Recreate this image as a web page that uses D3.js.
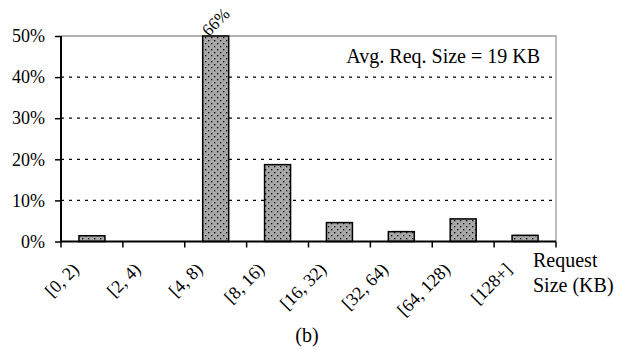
<!DOCTYPE html>
<html><head><meta charset="utf-8">
<script src="https://cdn.jsdelivr.net/npm/d3@7"></script>
<style>body{margin:0;background:#fff}text{font-family:"Liberation Serif","Times New Roman",serif;fill:#000}</style>
</head><body>
<svg id="c" width="621" height="350"></svg>
<script>
const categories = ["[0, 2)","[2, 4)","[4, 8)","[8, 16)","[16, 32)","[32, 64)","[64, 128)","[128+]"];
const values = [1.4, 0, 66, 18.7, 4.6, 2.4, 5.5, 1.5];
const yTicks = [0, 10, 20, 30, 40, 50];
const annotation = "Avg. Req. Size = 19 KB";

const svg = d3.select("#c");
const L = 61, R = 556, T = 36, B = 241.5;
const x = d3.scaleBand().domain(categories).range([L, R]).paddingInner(0.58).paddingOuter(0.29);
const y = d3.scaleLinear().domain([0, 50]).range([B, T]);

const defs = svg.append("defs");
const pat = defs.append("pattern").attr("id","dots").attr("width",6).attr("height",6).attr("patternUnits","userSpaceOnUse");
pat.append("rect").attr("width",6).attr("height",6).attr("fill","#a8a8a8");
pat.append("rect").attr("x",1).attr("y",1).attr("width",1.3).attr("height",1.3).attr("fill","#000");
pat.append("rect").attr("x",4).attr("y",4).attr("width",1.3).attr("height",1.3).attr("fill","#000");

// gridlines
svg.append("g").selectAll("line").data(yTicks.filter(d => d > 0 && d < 50)).join("line")
  .attr("x1", L).attr("x2", R).attr("y1", d => y(d)).attr("y2", d => y(d))
  .attr("stroke","#000").attr("stroke-width",1.2).attr("stroke-dasharray","3,5");
// top & right border
svg.append("path").attr("d", `M${L},${y(50)}H${R}V${B}`).attr("fill","none").attr("stroke","#999").attr("stroke-width",1.3);

// bars
svg.append("g").selectAll("rect").data(categories.map((c,i)=>({c, v: values[i]})).filter(d => d.v > 0)).join("rect")
  .attr("x", d => x(d.c)).attr("width", x.bandwidth())
  .attr("y", d => y(Math.min(d.v, 50))).attr("height", d => B - y(Math.min(d.v, 50)))
  .attr("fill","url(#dots)").attr("stroke","#000").attr("stroke-width",1.5);

// value label for clipped bar
const over = categories.map((c,i)=>({c, v: values[i]})).filter(d => d.v > 50);
svg.append("g").selectAll("text").data(over).join("text")
  .attr("transform", d => `translate(${x(d.c) + x.bandwidth()/2 + 4},${T - 10}) rotate(-45)`)
  .attr("text-anchor","middle").attr("font-size",17).text(d => d.v + "%");

// y axis
const ya = d3.axisLeft(y).tickValues(yTicks).tickFormat(d => d + "%").tickSize(6).tickPadding(10);
const gy = svg.append("g").attr("transform", `translate(${L},0)`).call(ya);
gy.select(".domain").attr("stroke","#000").attr("stroke-width",2).attr("d", `M0,${B}V${T}`);
gy.selectAll(".tick line").attr("stroke","#000").attr("stroke-width",1.5);
gy.selectAll(".tick text").attr("font-size",18).attr("font-family","Liberation Serif");

// x axis
const xb = d3.scaleLinear().domain([0, categories.length]).range([L, R]);
const gx = svg.append("g");
gx.append("line").attr("x1", L).attr("x2", R).attr("y1", B).attr("y2", B).attr("stroke","#000").attr("stroke-width",2);
gx.selectAll("line.t").data(d3.range(categories.length + 1)).join("line").attr("class","t")
  .attr("x1", d => xb(d)).attr("x2", d => xb(d)).attr("y1", B).attr("y2", B + 6)
  .attr("stroke","#000").attr("stroke-width",1.5);
gx.selectAll("text").data(categories).join("text")
  .attr("transform", d => `translate(${x(d) + x.bandwidth()/2 - 12},${B + 29}) rotate(-45)`)
  .attr("text-anchor","end").attr("font-size",18).text(d => d);

svg.append("text").attr("x", 540).attr("y", 63).attr("text-anchor","end").attr("font-size",20).text(annotation);
svg.append("text").attr("x", 533).attr("y", 267).attr("font-size",20).text("Request");
svg.append("text").attr("x", 533).attr("y", 292).attr("font-size",20).text("Size (KB)");
svg.append("text").attr("x", 307).attr("y", 342).attr("text-anchor","middle").attr("font-size",20).text("(b)");
</script>
</body></html>
